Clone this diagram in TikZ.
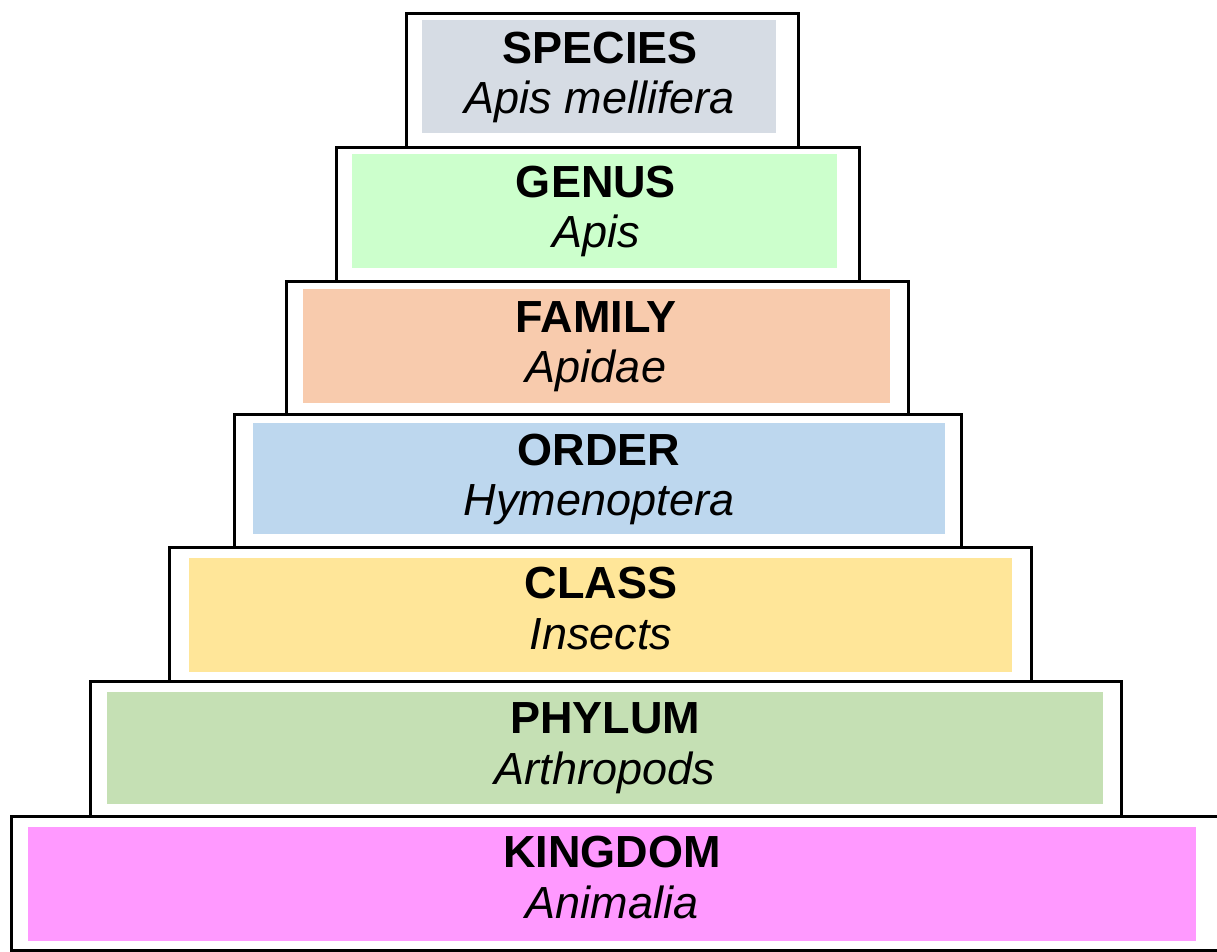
\documentclass[tikz,border=0pt]{standalone}
\usepackage{fontspec}
\setmainfont{Liberation Sans}
\definecolor{cspecies}{HTML}{D6DCE4}
\definecolor{cgenus}{HTML}{CCFFCC}
\definecolor{cfamily}{HTML}{F8CBAD}
\definecolor{corder}{HTML}{BDD7EE}
\definecolor{cclass}{HTML}{FFE699}
\definecolor{cphylum}{HTML}{C5E0B4}
\definecolor{ckingdom}{HTML}{FF99FF}
\begin{document}
\begin{tikzpicture}[x=1pt,y=-1pt,
  outerbox/.style={draw=black,line width=3pt,fill=white},
  ranklabel/.style={inner sep=0pt,anchor=base,font=\fontsize{45}{50}\selectfont\bfseries},
  taxlabel/.style={inner sep=0pt,anchor=base,font=\fontsize{45}{50}\selectfont\itshape}]
\useasboundingbox (0,0) rectangle (1217,951);
% outer boxes (bottom to top)
\draw[outerbox] (11.5,816.3) rectangle (1218.5,950);
\draw[outerbox] (90.5,681.7) rectangle (1121.7,816.3);
\draw[outerbox] (169.5,547.3) rectangle (1031.3,681.7);
\draw[outerbox] (234.5,414) rectangle (961.3,547.3);
\draw[outerbox] (286.5,281.7) rectangle (908.7,414.8);
\draw[outerbox] (336.5,147) rectangle (859,281.7);
\draw[outerbox] (406.5,13) rectangle (798,147);
% inner coloured rectangles
\fill[cspecies] (422,20) rectangle (776,133);
\fill[cgenus] (352,154) rectangle (837,268);
\fill[cfamily] (303,289) rectangle (890,403);
\fill[corder] (253,423) rectangle (945,534);
\fill[cclass] (189,558) rectangle (1012,672);
\fill[cphylum] (107,692) rectangle (1103,804);
\fill[ckingdom] (28,827) rectangle (1196,941);
% labels
\node[ranklabel] (species) at (600,63) {SPECIES};
\node[taxlabel] (apismel) at (600,113) {Apis mellifera};
\node[ranklabel] (genus) at (596,197) {GENUS};
\node[taxlabel] (apis) at (596,247) {Apis};
\node[ranklabel] (family) at (596,332) {FAMILY};
\node[taxlabel] (apidae) at (596,382) {Apidae};
\node[ranklabel] (order) at (599,465) {ORDER};
\node[taxlabel] (hymen) at (599,515) {Hymenoptera};
\node[ranklabel] (class) at (601,598) {CLASS};
\node[taxlabel] (insects) at (601,649) {Insects};
\node[ranklabel] (phylum) at (605,733) {PHYLUM};
\node[taxlabel] (arthro) at (605,784) {Arthropods};
\node[ranklabel] (kingdom) at (612,867) {KINGDOM};
\node[taxlabel] (animalia) at (612,918) {Animalia};
\end{tikzpicture}
\end{document}
